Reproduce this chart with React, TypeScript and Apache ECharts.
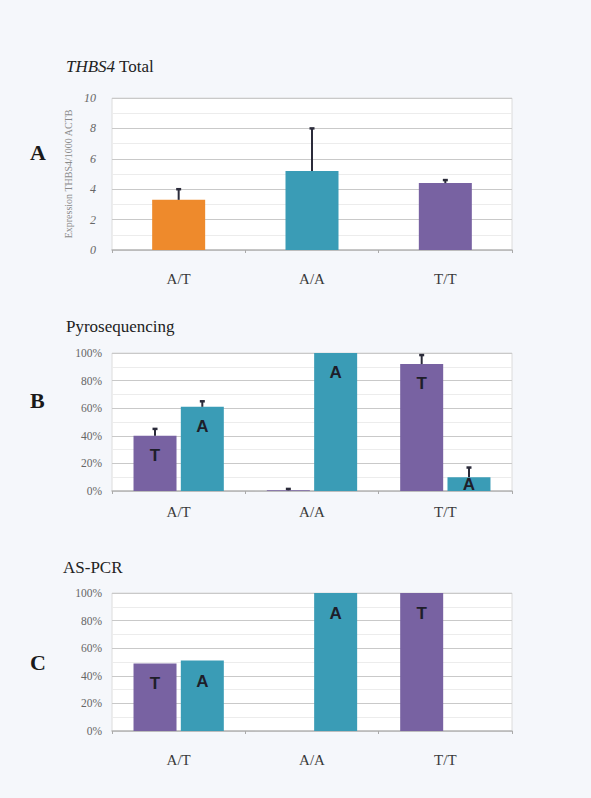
import React, { useEffect, useRef } from "react";
import * as echarts from "echarts";

const categories = ["A/T", "A/A", "T/T"];

// Panel A: THBS4 total expression
const totalMean = [3.3, 5.2, 4.4];
const totalUpper = [4.0, 8.0, 4.6];
const totalTicks = [0, 10, 2];

// Panel B: Pyrosequencing (%)
const pyroT = [40, 0.5, 92];
const pyroTUpper = [45, 1.5, 98.5];
const pyroA = [61, 100, 10];
const pyroAUpper = [65, 100, 17];

// Panel C: AS-PCR (%)
const aspcrT = [49, 0, 100];
const aspcrA = [51, 100, 0];

const ORANGE = "#ee8a2c";
const TEAL = "#3a9cb6";
const PURPLE = "#7862a2";
const SERIF = "'Liberation Serif', 'DejaVu Serif', serif";

const BAR_W = 43;
const BAR_GAP = 0.1;

function errorSeries(
  gridIdx: number,
  means: number[],
  uppers: number[],
  shift: number
): any {
  const data = means.map((m, i) => [i, m, uppers[i]]);
  return {
    type: "custom",
    xAxisIndex: gridIdx,
    yAxisIndex: gridIdx,
    z: 5,
    silent: true,
    data,
    encode: { x: 0, y: [1, 2] },
    renderItem: (params: any, api: any) => {
      const xi = api.value(0);
      const lo = api.coord([xi, api.value(1)]);
      const hi = api.coord([xi, api.value(2)]);
      if (Math.abs(lo[1] - hi[1]) < 0.5) return null;
      const x = lo[0] + shift;
      return {
        type: "group",
        children: [
          {
            type: "line",
            shape: { x1: x, y1: lo[1], x2: x, y2: hi[1] },
            style: { stroke: "#2b2b3a", lineWidth: 2 },
          },
          {
            type: "line",
            shape: { x1: x - 2.5, y1: hi[1], x2: x + 2.5, y2: hi[1] },
            style: { stroke: "#2b2b3a", lineWidth: 2.5 },
          },
        ],
      };
    },
  };
}

function letterData(values: number[], letter: string, smallInside = 12): any[] {
  return values.map((v) => {
    if (v < 2) return { value: v, label: { show: false } };
    if (v < smallInside)
      return { value: v, label: { show: true, position: "inside", formatter: letter } };
    return { value: v };
  });
}

const App: React.FC = () => {
  const ref = useRef<HTMLDivElement>(null);

  useEffect(() => {
    if (!ref.current) return;
    const chart = echarts.init(ref.current, null, { renderer: "svg" });

    const grids = [
      { left: 112, width: 400, top: 98, height: 152 },
      { left: 112, width: 400, top: 353, height: 138 },
      { left: 112, width: 400, top: 593, height: 138 },
    ].map((g) => ({
      ...g,
      show: true,
      backgroundColor: "#ffffff",
      borderColor: "#dcdcdc",
      borderWidth: 1,
    }));

    const xAxisBase = (idx: number, margin: number) => ({
      type: "category",
      gridIndex: idx,
      data: categories,
      axisLine: { show: true, lineStyle: { color: "#b8b8b8", width: 1.5 } },
      axisTick: { show: true, alignWithLabel: false, length: 3, lineStyle: { color: "#aaa" } },
      axisLabel: { color: "#3a3a3a", fontFamily: SERIF, fontSize: 15, margin },
    });

    const yPct = (idx: number) => ({
      type: "value",
      gridIndex: idx,
      min: 0,
      max: 100,
      interval: 20,
      axisLine: { show: false },
      axisTick: { show: false },
      axisLabel: {
        formatter: "{value}%",
        color: "#666",
        fontFamily: SERIF,
        fontSize: 11.5,
        margin: 10,
      },
      splitLine: { show: true, lineStyle: { color: "#c9c9c9", width: 1.2 } },
      minorTick: { show: false, splitNumber: 2 },
      minorSplitLine: { show: true, lineStyle: { color: "#ececec" } },
    });

    const labelBase = {
      show: true,
      position: "insideTop",
      distance: 11,
      fontFamily: "Liberation Sans, Arial, sans-serif",
      fontWeight: "bold",
      fontSize: 17,
      color: "#1e1e2a",
    };

    const shift = (BAR_W * (1 + BAR_GAP)) / 2;

    const option: any = {
      animation: false,
      backgroundColor: "#f5f7fb",
      grid: grids,
      xAxis: [xAxisBase(0, 21), xAxisBase(1, 13), xAxisBase(2, 21)],
      yAxis: [
        {
          type: "value",
          gridIndex: 0,
          min: totalTicks[0],
          max: totalTicks[1],
          interval: totalTicks[2],
          name: "Expression THBS4/1000 ACTB",
          nameLocation: "middle",
          nameGap: 38,
          nameRotate: 90,
          nameTextStyle: { color: "#8a8a8a", fontSize: 10, fontFamily: SERIF },
          axisLine: { show: false },
          axisTick: { show: false },
          axisLabel: {
            color: "#666",
            fontFamily: SERIF,
            fontStyle: "italic",
            fontSize: 12,
            margin: 16,
          },
          splitLine: { show: true, lineStyle: { color: "#c9c9c9", width: 1.2 } },
          minorTick: { show: false, splitNumber: 2 },
          minorSplitLine: { show: true, lineStyle: { color: "#ececec" } },
        },
        yPct(1),
        yPct(2),
      ],
      series: [
        {
          type: "bar",
          xAxisIndex: 0,
          yAxisIndex: 0,
          barWidth: 53,
          data: totalMean.map((v, i) => ({
            value: v,
            itemStyle: { color: [ORANGE, TEAL, PURPLE][i] },
          })),
        },
        errorSeries(0, totalMean, totalUpper, 0),
        {
          type: "bar",
          xAxisIndex: 1,
          yAxisIndex: 1,
          barWidth: BAR_W,
          barGap: `${BAR_GAP * 100}%`,
          itemStyle: { color: PURPLE },
          label: { ...labelBase, formatter: "T" },
          data: letterData(pyroT, "T"),
        },
        {
          type: "bar",
          xAxisIndex: 1,
          yAxisIndex: 1,
          barWidth: BAR_W,
          barGap: `${BAR_GAP * 100}%`,
          itemStyle: { color: TEAL },
          label: { ...labelBase, formatter: "A" },
          data: letterData(pyroA, "A"),
        },
        errorSeries(1, pyroT, pyroTUpper, -shift),
        errorSeries(1, pyroA, pyroAUpper, shift),
        {
          type: "bar",
          xAxisIndex: 2,
          yAxisIndex: 2,
          barWidth: BAR_W,
          barGap: `${BAR_GAP * 100}%`,
          itemStyle: { color: PURPLE },
          label: { ...labelBase, distance: 12, formatter: "T" },
          data: letterData(aspcrT, "T"),
        },
        {
          type: "bar",
          xAxisIndex: 2,
          yAxisIndex: 2,
          barWidth: BAR_W,
          barGap: `${BAR_GAP * 100}%`,
          itemStyle: { color: TEAL },
          label: { ...labelBase, distance: 12, formatter: "A" },
          data: letterData(aspcrA, "A"),
        },
      ],
      graphic: [
        {
          type: "text",
          left: 66,
          top: 58,
          style: {
            text: "{i|THBS4} Total",
            rich: {
              i: { fontStyle: "italic", fontFamily: SERIF, fontSize: 17, fill: "#222" },
            },
            fontFamily: SERIF,
            fontSize: 17,
            fill: "#222",
          },
        },
        {
          type: "text",
          left: 66,
          top: 318,
          style: { text: "Pyrosequencing", fontFamily: SERIF, fontSize: 17, fill: "#222" },
        },
        {
          type: "text",
          left: 63,
          top: 559,
          style: { text: "AS-PCR", fontFamily: SERIF, fontSize: 17, fill: "#222" },
        },
        {
          type: "text",
          left: 30,
          top: 141,
          style: { text: "A", fontFamily: SERIF, fontSize: 22, fontWeight: "bold", fill: "#1a1a1a" },
        },
        {
          type: "text",
          left: 30,
          top: 389,
          style: { text: "B", fontFamily: SERIF, fontSize: 22, fontWeight: "bold", fill: "#1a1a1a" },
        },
        {
          type: "text",
          left: 30,
          top: 651,
          style: { text: "C", fontFamily: SERIF, fontSize: 22, fontWeight: "bold", fill: "#1a1a1a" },
        },
      ],
    };

    chart.setOption(option);
    return () => chart.dispose();
  }, []);

  return (
    <div
      ref={ref}
      style={{ position: "absolute", left: 0, top: 0, width: 591, height: 798 }}
    />
  );
};

export default App;
